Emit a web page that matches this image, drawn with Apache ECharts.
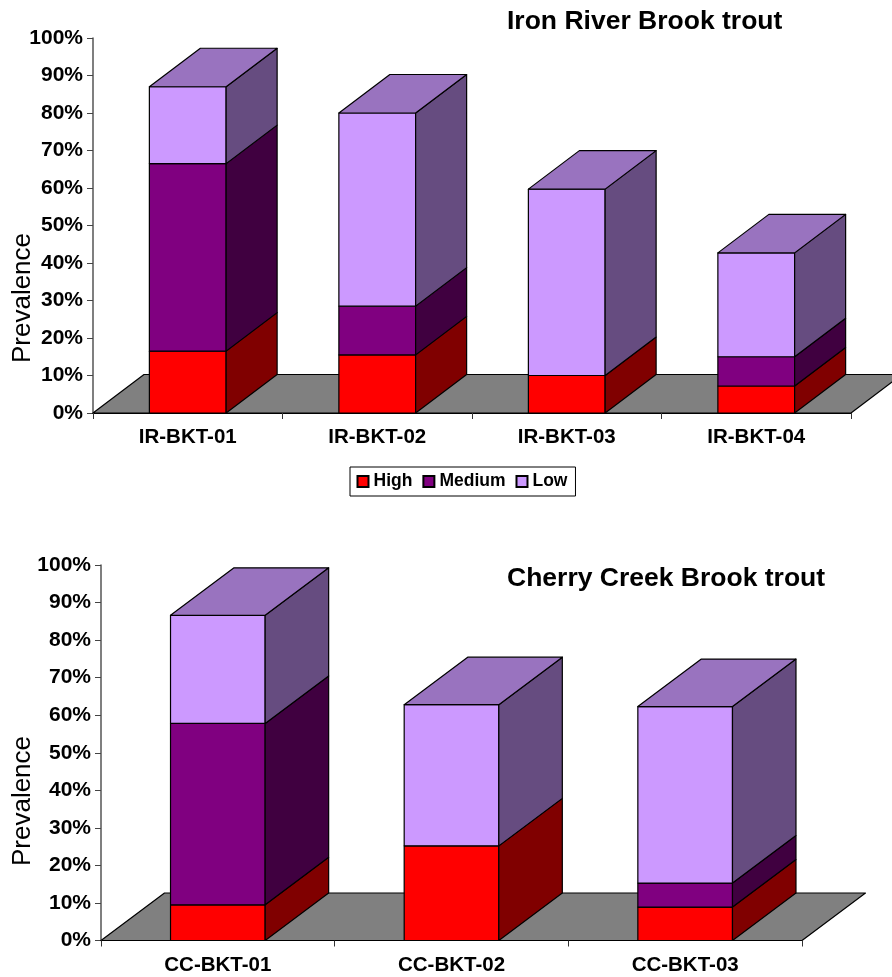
<!DOCTYPE html>
<html>
<head>
<meta charset="utf-8">
<style>
  html, body { margin: 0; padding: 0; background: #fff; }
  #chart { width: 892px; height: 977px; }
</style>
<script src="https://cdn.jsdelivr.net/npm/echarts@6/dist/echarts.min.js"></script>
</head>
<body>
<div id="chart"></div>
<script>
const FONT = '"Liberation Sans", Arial, sans-serif'

// Iron River
const irCategories = ['IR-BKT-01', 'IR-BKT-02', 'IR-BKT-03', 'IR-BKT-04']
const irHigh = [16.5, 15.5, 10, 7.2]
const irMedium = [50, 13, 0, 7.8]
const irLow = [20.5, 51.5, 49.7, 27.7]

// Cherry Creek
const ccCategories = ['CC-BKT-01', 'CC-BKT-02', 'CC-BKT-03']
const ccHigh = [9.5, 25.2, 8.9]
const ccMedium = [48.3, 0, 6.4]
const ccLow = [28.8, 37.6, 47]

const FRONT = { High: '#ff0000', Medium: '#800080', Low: '#cc99ff' }
const SIDE = { High: '#800000', Medium: '#400040', Low: '#664c80' }
const TOP_FACE = '#9973bf'
const FLOOR = '#808080'
const BAR_RATIO = 0.405

const chart = echarts.init(document.getElementById('chart'))

const face = (points, fill) => ({
  type: 'polygon',
  shape: { points },
  style: { fill, stroke: '#000', lineWidth: 1.2, lineJoin: 'round' }
})

// one stacked box segment, the top face only on the last one of the stack
const boxRenderer = (name, depth, withTop) => (params, api) => {
  const cat = api.value(0)
  const base = api.value(1)
  const val = api.value(2)
  if (!val) return null
  const w = api.size([1, 0])[0] * BAR_RATIO
  const [cx, y0] = api.coord([cat, base])
  const y1 = api.coord([cat, base + val])[1]
  const l = cx - w / 2
  const r = cx + w / 2
  const [dx, dy] = depth
  const children = [
    face([[l, y0], [r, y0], [r, y1], [l, y1]], FRONT[name]),
    face([[r, y0], [r + dx, y0 - dy], [r + dx, y1 - dy], [r, y1]], SIDE[name])
  ]
  if (withTop) {
    children.push(face([[l, y1], [r, y1], [r + dx, y1 - dy], [l + dx, y1 - dy]], TOP_FACE))
  }
  return { type: 'group', children }
}

// grey floor under the bars
const floorRenderer = depth => (params, api) => {
  const { x, y, width, height } = params.coordSys
  const b = y + height
  return face(
    [[x, b], [x + depth[0], b - depth[1]], [x + width + depth[0], b - depth[1]], [x + width, b]],
    FLOOR
  )
}

// builds floor + the three stacked series for one panel
const panelSeries = (index, categories, high, medium, low, depth) => {
  const common = { type: 'custom', xAxisIndex: index, yAxisIndex: index, encode: { x: 0, y: 2 }, clip: false }
  const stack = [['High', high], ['Medium', medium], ['Low', low]]
  const sum = categories.map(() => 0)
  const series = [{
    ...common,
    name: 'floor' + index,
    renderItem: floorRenderer(depth),
    data: [[0, 0, 0]],
    z: 1,
    silent: true
  }]
  stack.forEach(([name, values], s) => {
    const data = values.map((v, i) => {
      const row = [i, sum[i], v]
      sum[i] += v
      return row
    })
    series.push({
      ...common,
      name,
      renderItem: boxRenderer(name, depth, s === 2),
      itemStyle: { color: FRONT[name], borderColor: '#000', borderWidth: 1 },
      data,
      z: 2 + s
    })
  })
  return series
}

const xAxisFor = (gridIndex, data) => ({
  gridIndex,
  type: 'category',
  data,
  axisLine: { lineStyle: { color: '#000', width: 1.2 } },
  axisTick: { show: true, length: 6, lineStyle: { color: '#333', width: 1 } },
  axisLabel: { color: '#000', fontFamily: FONT, fontWeight: 'bold', fontSize: 20.5, margin: 14 },
  splitLine: { show: false },
  z: 6
})

const yAxisFor = gridIndex => ({
  gridIndex,
  type: 'value',
  min: 0,
  max: 100,
  interval: 10,
  axisLine: { show: true, lineStyle: { color: '#555', width: 1.5 } },
  axisTick: { show: true, length: 6, lineStyle: { color: '#444', width: 1 } },
  axisLabel: {
    color: '#000', fontFamily: FONT, fontWeight: 'bold', fontSize: 21, margin: 10,
    formatter: '{value}%'
  },
  splitLine: { show: false }
})

const prevalenceLabel = (x, y) => ({
  type: 'text',
  x,
  y,
  rotation: Math.PI / 2,
  style: {
    text: 'Prevalence',
    fill: '#000',
    font: '26px ' + FONT,
    align: 'center',
    verticalAlign: 'middle'
  }
})

const titleStyle = { fontFamily: FONT, fontWeight: 'bold', fontSize: 26.5, color: '#000' }

chart.setOption({
  animation: false,
  backgroundColor: '#fff',
  title: [
    { text: 'Iron River Brook trout', left: 502, top: 3, textStyle: titleStyle },
    { text: 'Cherry Creek Brook trout', left: 502, top: 560, textStyle: titleStyle }
  ],
  legend: {
    data: ['High', 'Medium', 'Low'],
    left: 350,
    top: 467,
    padding: [5.5, 8, 5.5, 6.5],
    itemGap: 10,
    itemWidth: 11,
    itemHeight: 11,
    icon: 'rect',
    borderColor: '#000',
    borderWidth: 1,
    backgroundColor: '#fff',
    selectedMode: false,
    textStyle: { color: '#000', fontFamily: FONT, fontWeight: 'bold', fontSize: 17.5 }
  },
  grid: [
    { left: 93, top: 38, width: 758, height: 375 },
    { left: 101, top: 565, width: 701, height: 375.5 }
  ],
  xAxis: [xAxisFor(0, irCategories), xAxisFor(1, ccCategories)],
  yAxis: [yAxisFor(0), yAxisFor(1)],
  graphic: [prevalenceLabel(23, 298), prevalenceLabel(23, 801)],
  series: [
    ...panelSeries(0, irCategories, irHigh, irMedium, irLow, [51, 38.5]),
    ...panelSeries(1, ccCategories, ccHigh, ccMedium, ccLow, [63.5, 47.5])
  ]
})
</script>
</body>
</html>
